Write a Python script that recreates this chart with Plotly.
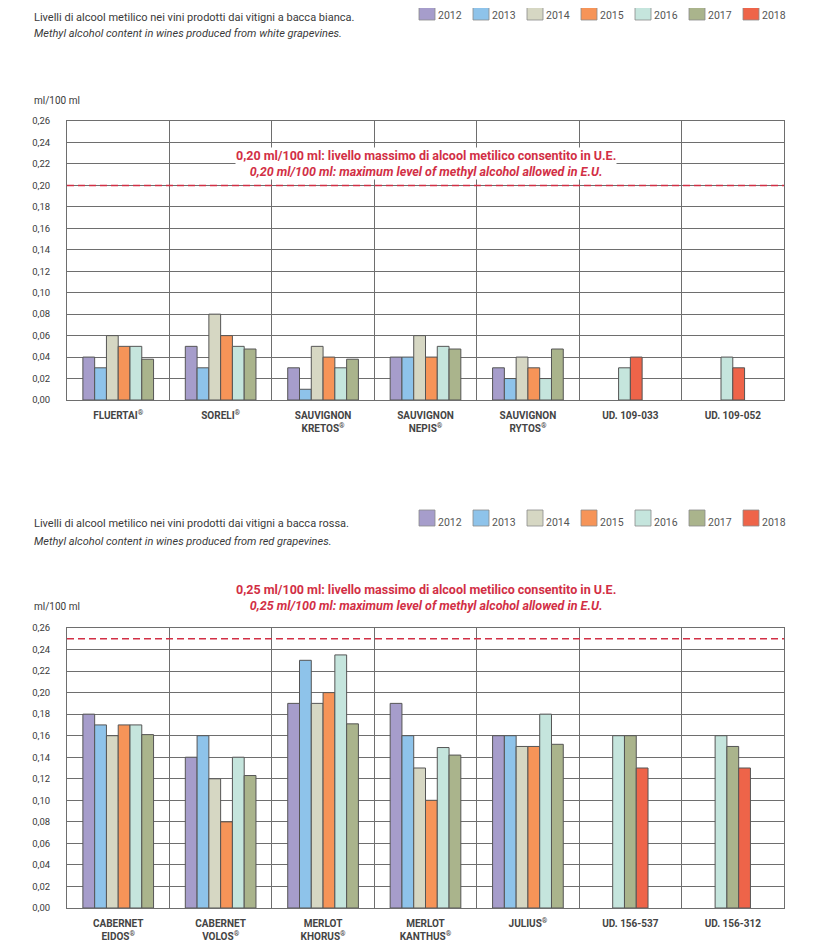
import plotly.graph_objects as go
from plotly.subplots import make_subplots

years = ["2012", "2013", "2014", "2015", "2016", "2017", "2018"]
colors = ["#a69dcb", "#8ec3ea", "#d6d7c3", "#f69458", "#c5e5dd", "#aab48c", "#ee6449"]

white_cats = ["FLUERTAI", "SORELI", "SAUVIGNON KRETOS", "SAUVIGNON NEPIS", "SAUVIGNON RYTOS", "UD. 109-033", "UD. 109-052"]
white_ticks = ["FLUERTAI<sup>®</sup>", "SORELI<sup>®</sup>", "SAUVIGNON<br>KRETOS<sup>®</sup>", "SAUVIGNON<br>NEPIS<sup>®</sup>",
               "SAUVIGNON<br>RYTOS<sup>®</sup>", "UD. 109-033", "UD. 109-052"]
white_vals = {
    "2012": [0.04, 0.05, 0.03, 0.04, 0.03, None, None],
    "2013": [0.03, 0.03, 0.01, 0.04, 0.02, None, None],
    "2014": [0.06, 0.08, 0.05, 0.06, 0.04, None, None],
    "2015": [0.05, 0.06, 0.04, 0.04, 0.03, None, None],
    "2016": [0.05, 0.05, 0.03, 0.05, 0.02, 0.03, 0.04],
    "2017": [0.038, 0.0475, 0.038, 0.0475, 0.0475, None, None],
    "2018": [None, None, None, None, None, 0.04, 0.03],
}

red_cats = ["CABERNET EIDOS", "CABERNET VOLOS", "MERLOT KHORUS", "MERLOT KANTHUS", "JULIUS", "UD. 156-537", "UD. 156-312"]
red_ticks = ["CABERNET<br>EIDOS<sup>®</sup>", "CABERNET<br>VOLOS<sup>®</sup>", "MERLOT<br>KHORUS<sup>®</sup>",
             "MERLOT<br>KANTHUS<sup>®</sup>", "JULIUS<sup>®</sup>", "UD. 156-537", "UD. 156-312"]
red_vals = {
    "2012": [0.18, 0.14, 0.19, 0.19, 0.16, None, None],
    "2013": [0.17, 0.16, 0.23, 0.16, 0.16, None, None],
    "2014": [0.16, 0.12, 0.19, 0.13, 0.15, None, None],
    "2015": [0.17, 0.08, 0.20, 0.10, 0.15, None, None],
    "2016": [0.17, 0.14, 0.235, 0.149, 0.18, 0.16, 0.16],
    "2017": [0.161, 0.123, 0.171, 0.142, 0.152, 0.16, 0.15],
    "2018": [None, None, None, None, None, 0.13, 0.13],
}

white_limit = 0.20
red_limit = 0.25

# page body has an 8px margin; figure coordinates are page coordinates minus 8
OFF = 8
W, H = 820 - OFF, 947 - OFF
PX0, PX1 = 67 - OFF, 784 - OFF
BAR_W = 0.115
FONT = "Roboto"
TXT = "#3a3a3a"
GRID = "#6e6e6e"
RED = "#d22f45"

fig = make_subplots(rows=2, cols=1)


def add_group(vals, cats, row):
    ncat = len(cats)
    present = [[y for y in years if vals[y][i] is not None] for i in range(ncat)]
    for yi, y in enumerate(years):
        offs = []
        for i in range(ncat):
            if vals[y][i] is None:
                offs.append(0)
            else:
                k = present[i].index(y)
                n = len(present[i])
                offs.append((k - n / 2) * BAR_W)
        fig.add_trace(go.Bar(
            x=cats, y=vals[y], name=y, width=BAR_W, offset=offs,
            marker=dict(color=colors[yi], line=dict(color="#555555", width=1)),
            showlegend=False,
        ), row=row, col=1)


add_group(white_vals, white_cats, 1)
add_group(red_vals, red_cats, 2)


def dom(top_px, bot_px):
    return [1 - (bot_px - OFF) / H, 1 - (top_px - OFF) / H]


fig.update_layout(
    width=W, height=H, barmode="overlay", separators=",.",
    margin=dict(l=PX0, r=W - PX1, t=0, b=0, autoexpand=False),
    plot_bgcolor="white", paper_bgcolor="white",
    font=dict(family=FONT, size=10, color=TXT),
    yaxis=dict(domain=dom(121, 400)),
    yaxis2=dict(domain=dom(628, 908)),
    showlegend=False,
)

for r, ticks, cats in [(1, white_ticks, white_cats), (2, red_ticks, red_cats)]:
    fig.update_xaxes(row=r, col=1, type="category", categoryorder="array", categoryarray=cats,
                     tickvals=cats, ticktext=ticks, range=[-0.5, len(cats) - 0.5],
                     tickson="boundaries", showgrid=True, gridcolor=GRID, gridwidth=1,
                     showline=True, linecolor=GRID, linewidth=1, mirror=True, ticks="", ticklen=0,
                     tickfont=dict(family=FONT, size=10, color="#444", weight="bold"),
                     ticklabelstandoff=6, zeroline=False)
    fig.update_yaxes(row=r, col=1, range=[0, 0.26], dtick=0.02, tick0=0, tickformat=".2f",
                     showgrid=True, gridcolor=GRID, gridwidth=1, showline=True, linecolor=GRID,
                     linewidth=1, mirror=True, ticks="", zeroline=False,
                     tickfont=dict(family=FONT, size=9.5, color=TXT), ticklabelstandoff=14)

# limit lines
fig.add_shape(type="line", xref="x domain", yref="y", x0=0, x1=1, y0=white_limit, y1=white_limit,
              line=dict(color=RED, width=1.5, dash="7px,4px"))
fig.add_shape(type="line", xref="x2 domain", yref="y2", x0=0, x1=1, y0=red_limit, y1=red_limit,
              line=dict(color=RED, width=1.5, dash="7px,4px"))


def px_x(xpx):
    return (xpx - OFF - PX0) / (PX1 - PX0)


def px_y(ypx):
    return 1 - (ypx - OFF) / H


lim_w = "0,20 ml/100 ml: livello massimo di alcool metilico consentito in U.E.<br><i>0,20 ml/100 ml: maximum level of methyl alcohol allowed in E.U.</i>"
lim_r = "0,25 ml/100 ml: livello massimo di alcool metilico consentito in U.E.<br><i>0,25 ml/100 ml: maximum level of methyl alcohol allowed in E.U.</i>"
fig.add_annotation(x=px_x(426), y=px_y(163.5), xref="paper", yref="paper", text=lim_w, showarrow=False,
                   font=dict(family=FONT, size=12.5, color=RED, weight="bold"), bgcolor="white",
                   xanchor="center", yanchor="middle", borderpad=0)
fig.add_annotation(x=px_x(426), y=px_y(597.5), xref="paper", yref="paper", text=lim_r, showarrow=False,
                   font=dict(family=FONT, size=12.5, color=RED, weight="bold"),
                   xanchor="center", yanchor="middle")


def ptext(xpx, ypx, text, size=10, italic=False, color=TXT):
    fig.add_annotation(x=px_x(xpx), y=px_y(ypx), xref="paper", yref="paper", text=text,
                       showarrow=False, xanchor="left", yanchor="middle",
                       font=dict(family=FONT, size=size, color=color, style="italic" if italic else "normal"))


ptext(32, 17, "Livelli di alcool metilico nei vini prodotti dai vitigni a bacca bianca.", size=11)
ptext(32, 34, "Methyl alcohol content in wines produced from white grapevines.", size=11, italic=True)
ptext(32, 100, "ml/100 ml", size=10)
ptext(32, 523, "Livelli di alcool metilico nei vini prodotti dai vitigni a bacca rossa.", size=11)
ptext(32, 541, "Methyl alcohol content in wines produced from red grapevines.", size=11, italic=True)
ptext(32, 606, "ml/100 ml", size=10)

# legends (one per chart), drawn from the years / colors lists
for top in (4, 510):
    for i, (y, c) in enumerate(zip(years, colors)):
        x0 = 419 + 54 * i
        fig.add_shape(type="rect", xref="paper", yref="paper",
                      x0=px_x(x0), x1=px_x(x0 + 16), y0=px_y(top), y1=px_y(top + 16),
                      fillcolor=c, line=dict(color="#8a8a8a", width=0.8))
        ptext(x0 + 17, top + 12, y, size=10.5, color="#555")

fig.write_html("out.html")
